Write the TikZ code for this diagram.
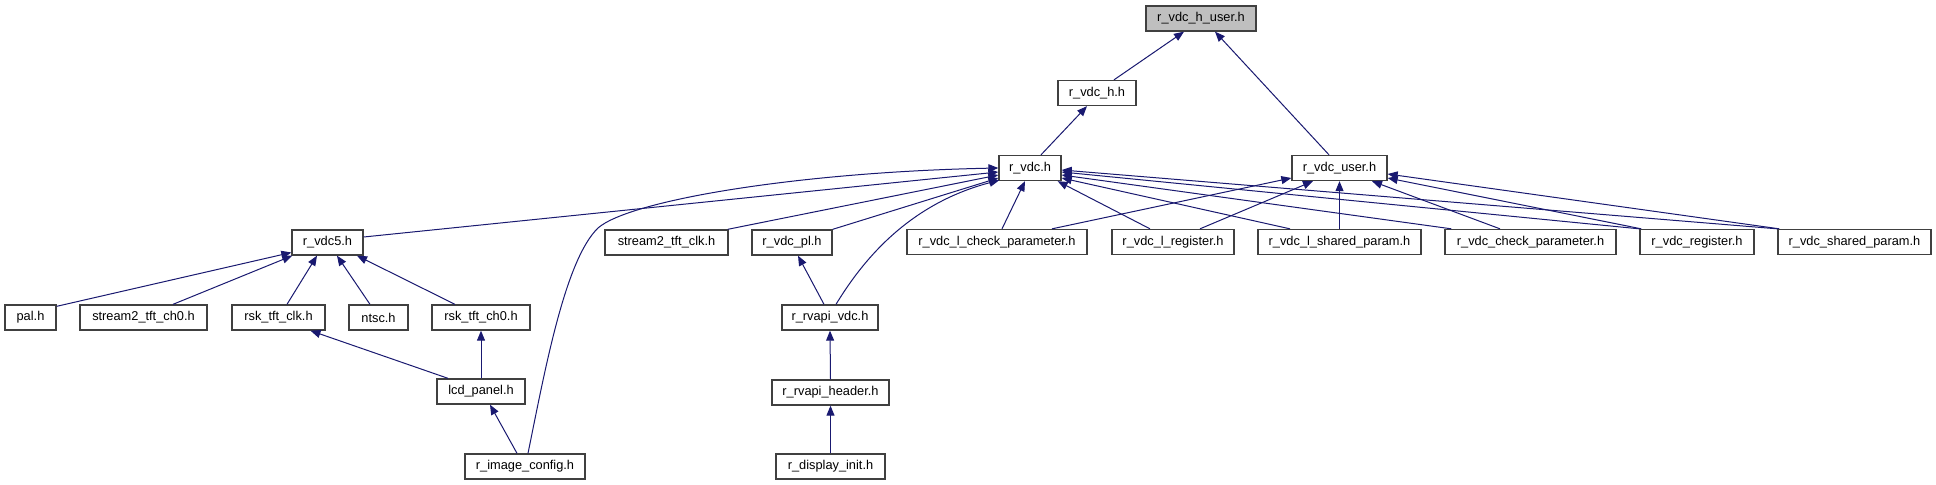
\documentclass[tikz,border=0pt]{standalone}
\usepackage{fontspec}
\setmainfont{Liberation Sans}
\usetikzlibrary{arrows.meta,calc}
\definecolor{edgeblue}{HTML}{191970}
\definecolor{boxline}{HTML}{404040}
\definecolor{rootfill}{HTML}{BFBFBF}
\tikzset{
  filebox/.style={draw=boxline, line width=1pt, fill=white, minimum height=25*0.75pt,
    inner sep=0pt, font=\fontsize{9.6}{11}\selectfont},
  rootbox/.style={filebox, fill=rootfill},
  dep/.style={draw=edgeblue, line width=0.75pt, -{Triangle[length=7.5pt,width=6pt]}}
}
\begin{document}
\begin{tikzpicture}[x=0.75pt,y=-0.75pt]
\fill[white] (0,0) rectangle (1936,485);
\useasboundingbox (0,0) rectangle (1936,485);

% row 0
\node[rootbox, minimum width=110*0.75pt] (huser) at (1201,18.5) {r\_vdc\_h\_user.h};
% row 1
\node[filebox, minimum width=78*0.75pt] (vdch) at (1097,93) {r\_vdc\_h.h};
% row 2
\node[filebox, minimum width=62*0.75pt] (vdc) at (1030,168) {r\_vdc.h};
\node[filebox, minimum width=95*0.75pt] (user) at (1339.5,168) {r\_vdc\_user.h};
% row 3
\node[filebox, minimum width=71*0.75pt] (vdc5) at (327.5,242.5) {r\_vdc5.h};
\node[filebox, minimum width=123*0.75pt] (s2clk) at (666.5,242.5) {stream2\_tft\_clk.h};
\node[filebox, minimum width=80*0.75pt] (pl) at (792,242.5) {r\_vdc\_pl.h};
\node[filebox, minimum width=180*0.75pt] (lcheck) at (997,242) {r\_vdc\_l\_check\_parameter.h};
\node[filebox, minimum width=122*0.75pt] (lreg) at (1173,242) {r\_vdc\_l\_register.h};
\node[filebox, minimum width=163*0.75pt] (lshared) at (1339.5,242) {r\_vdc\_l\_shared\_param.h};
\node[filebox, minimum width=171*0.75pt] (check) at (1530.5,242) {r\_vdc\_check\_parameter.h};
\node[filebox, minimum width=114*0.75pt] (reg) at (1697,242) {r\_vdc\_register.h};
\node[filebox, minimum width=153*0.75pt] (shared) at (1854.5,242) {r\_vdc\_shared\_param.h};
% row 4
\node[filebox, minimum width=51*0.75pt] (pal) at (30.5,317.5) {pal.h};
\node[filebox, minimum width=127*0.75pt] (s2ch0) at (143.5,317.5) {stream2\_tft\_ch0.h};
\node[filebox, minimum width=93*0.75pt] (rskclk) at (278.5,317.5) {rsk\_tft\_clk.h};
\node[filebox, minimum width=59*0.75pt] (ntsc) at (378.5,317.5) {ntsc.h};
\node[filebox, minimum width=98*0.75pt] (rskch0) at (481,317.5) {rsk\_tft\_ch0.h};
\node[filebox, minimum width=96*0.75pt] (rvapi) at (830,317.5) {r\_rvapi\_vdc.h};
% row 5
\node[filebox, minimum width=88*0.75pt] (lcd) at (481,391.5) {lcd\_panel.h};
\node[filebox, minimum width=117*0.75pt] (hdr) at (830.5,392.5) {r\_rvapi\_header.h};
% row 6
\node[filebox, minimum width=120*0.75pt] (imgcfg) at (525,466.5) {r\_image\_config.h};
\node[filebox, minimum width=109*0.75pt] (init) at (830.5,466.5) {r\_display\_init.h};

% edges to r_vdc_h_user.h
\draw[dep] ($(vdch.north)+(17,0)$) -- ($(huser.south)+(-17,0)$);
\draw[dep] ($(user.north)+(-10.5,0)$) -- ($(huser.south)+(14,0)$);
% r_vdc.h -> r_vdc_h.h
\draw[dep] ($(vdc.north)+(11,0)$) -- ($(vdch.south)+(-10,0)$);

% edges into r_vdc.h from the left
\draw[dep] ($(imgcfg.north)+(3,0)$) .. controls (545,370) and (565,260) .. (598,228)
   .. controls (630,200) and (800,172) .. ($(vdc.west)+(0,0)$);
\draw[dep] ($(vdc5.east)+(0,-5.5)$) -- ($(vdc.west)+(0,4)$);
\draw[dep] ($(s2clk.north east)+(-1,0)$) -- ($(vdc.west)+(0,7)$);
\draw[dep] ($(pl.north east)+(0,0)$) -- ($(vdc.west)+(0,10)$);
\draw[dep] ($(rvapi.north)+(6,0)$) .. controls (860,265) and (905,205) .. ($(vdc.south west)+(1,-1)$);
% edges into r_vdc.h from below / right
\draw[dep] ($(lcheck.north)+(5,0)$) -- ($(vdc.south)+(-5,0)$);
\draw[dep] ($(lreg.north)+(-23,0)$) -- ($(vdc.south east)+(-4,0)$);
\draw[dep] ($(lshared.north)+(-49.5,0)$) -- ($(vdc.east)+(0,10)$);
\draw[dep] ($(check.north west)+(7,0)$) -- ($(vdc.east)+(0,7)$);
\draw[dep] ($(reg.north west)+(0,0)$) -- ($(vdc.east)+(0,4)$);
\draw[dep] ($(shared.north west)+(0,0)$) -- ($(vdc.east)+(0,2)$);

% edges into r_vdc_user.h
\draw[dep] ($(lcheck.north)+(55,0)$) -- ($(user.west)+(0,10)$);
\draw[dep] ($(lreg.north)+(27,0)$) -- ($(user.south)+(-26.5,0)$);
\draw[dep] (lshared.north) -- (user.south);
\draw[dep] ($(check.north)+(-30.5,0)$) -- ($(user.south)+(32.5,0)$);
\draw[dep] ($(reg.north west)+(2,0)$) -- ($(user.east)+(0,10)$);
\draw[dep] ($(shared.north west)+(2,0)$) -- ($(user.east)+(0,6)$);

% edges into r_vdc5.h
\draw[dep] ($(pal.north east)+(0,2)$) -- ($(vdc5.west)+(0,10)$);
\draw[dep] ($(s2ch0.north)+(29.5,0)$) -- ($(vdc5.south west)+(1,0)$);
\draw[dep] ($(rskclk.north)+(8.5,0)$) -- ($(vdc5.south)+(-10.5,0)$);
\draw[dep] ($(ntsc.north)+(-8.5,0)$) -- ($(vdc5.south)+(9.5,0)$);
\draw[dep] ($(rskch0.north)+(-26,0)$) -- ($(vdc5.south)+(29.5,0)$);

% lower left
\draw[dep] ($(lcd.north)+(-33,0)$) -- ($(rskclk.south)+(32,0)$);
\draw[dep] (lcd.north) -- (rskch0.south);
\draw[dep] ($(imgcfg.north)+(-8,0)$) -- ($(lcd.south)+(9,0)$);

% lower middle
\draw[dep] ($(rvapi.north)+(-6,0)$) -- ($(pl.south)+(6,0)$);
\draw[dep] (hdr.north) -- (rvapi.south);
\draw[dep] (init.north) -- (hdr.south);
\end{tikzpicture}
\end{document}
